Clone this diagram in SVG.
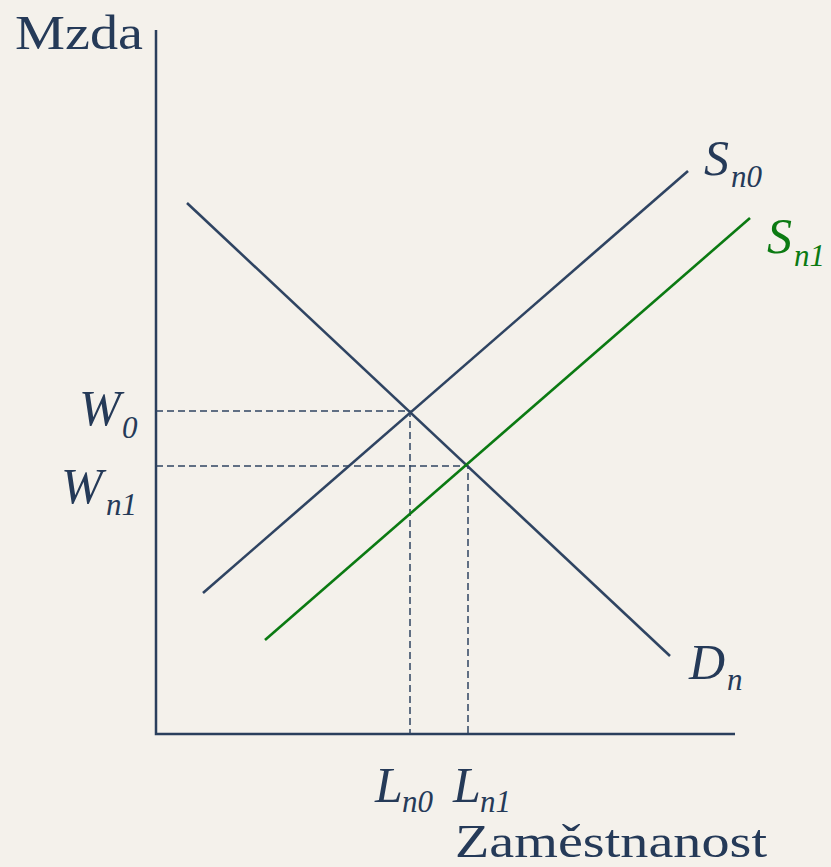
<svg xmlns="http://www.w3.org/2000/svg" width="831" height="867" viewBox="0 0 831 867">
<style>
.t{font-family:"Liberation Serif","DejaVu Serif",serif;fill:#253a58}
.i{font-style:italic}
.g{fill:#0b7a12}
.ax{stroke:#2a3f5c;stroke-width:2.5;fill:none}
.ln{stroke:#2f4462;stroke-width:2.6;fill:none}
.gl{stroke:#0b7a12;stroke-width:2.6;fill:none}
.d{stroke:#2f4462;stroke-width:1.5;stroke-dasharray:7 4;fill:none}
</style>
<rect width="831" height="867" fill="#f4f1eb"/>
<g id="axes">
<path class="ax" d="M156 30 V734 H735"/>
</g>
<g id="connectors">
<path class="d" d="M156 411 H410 V734"/>
<path class="d" d="M156 466 H468 V734"/>
</g>
<g id="Dn"><path class="ln" d="M187 203 L670 656"/>
<text class="t i" x="689" y="679" font-size="50">D</text><text class="t i" x="727" y="690" font-size="31">n</text></g>
<g id="Sn0"><path class="ln" d="M203 593 L688 171"/>
<text class="t i" x="704" y="175" font-size="50">S</text><text class="t i" x="731" y="187" font-size="31">n0</text></g>
<g id="Sn1"><path class="gl" d="M265 640 L750 218"/>
<text class="t i g" x="767" y="253" font-size="50">S</text><text class="t i g" x="794" y="266" font-size="31">n1</text></g>
<g id="W0"><text class="t i" x="79" y="425" font-size="50">W</text><text class="t i" x="122" y="438" font-size="31">0</text></g>
<g id="Wn1"><text class="t i" x="61" y="503" font-size="50">W</text><text class="t i" x="106" y="515" font-size="31">n1</text></g>
<g id="Ln0"><text class="t i" x="375" y="802" font-size="50">L</text><text class="t i" x="402" y="812" font-size="31">n0</text></g>
<g id="Ln1"><text class="t i" x="453" y="802" font-size="50">L</text><text class="t i" x="480" y="812" font-size="31">n1</text></g>
<g id="Mzda"><text class="t" x="15" y="49" font-size="48" textLength="128" lengthAdjust="spacingAndGlyphs">Mzda</text></g>
<g id="Zamestnanost"><text class="t" x="455" y="857" font-size="46" textLength="312" lengthAdjust="spacingAndGlyphs">Zaměstnanost</text></g>
</svg>
